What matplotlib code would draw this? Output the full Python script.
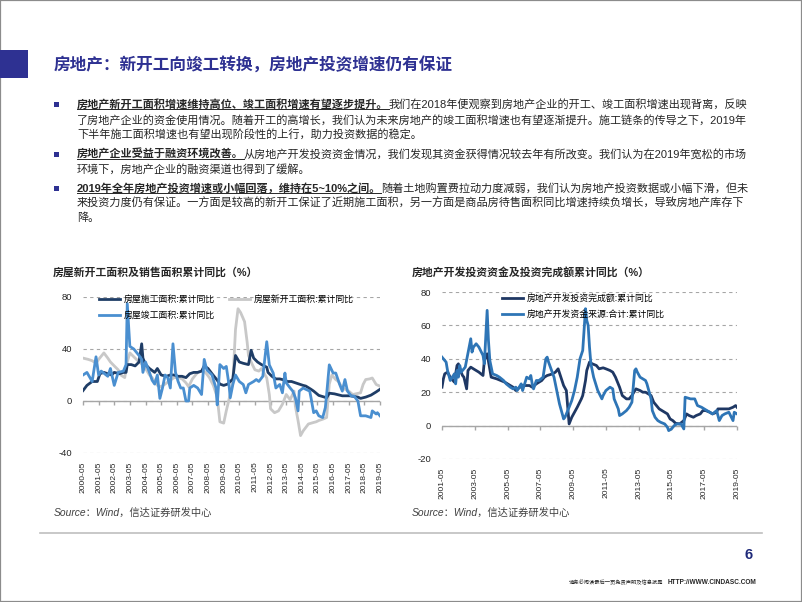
import matplotlib
matplotlib.use("Agg")
import matplotlib.pyplot as plt
from matplotlib.patches import Rectangle
from matplotlib.lines import Line2D
import pandas as pd

plt.rcParams["font.family"] = ["Liberation Sans", "Noto Sans CJK SC"]
plt.rcParams["axes.unicode_minus"] = False

# ---------------- data ----------------
# left chart: 房屋施工面积 / 新开工面积 / 竣工面积 累计同比 (%)
sg_dates = ["2000-05", "2000-08", "2000-12", "2001-04", "2001-06", "2001-09", "2001-12",
            "2002-03", "2002-05", "2002-09", "2002-12", "2003-02", "2003-03", "2003-06",
            "2003-09", "2003-12", "2004-02", "2004-03", "2004-05", "2004-08", "2004-12",
            "2005-02", "2005-05", "2005-09", "2005-12", "2006-03", "2006-06", "2006-09",
            "2006-12", "2007-03", "2007-06", "2007-09", "2007-12", "2008-02", "2008-05",
            "2008-08", "2008-12", "2009-02", "2009-05", "2009-08", "2009-12", "2010-02",
            "2010-05", "2010-08", "2010-12", "2011-02", "2011-04", "2011-07", "2011-10",
            "2012-02", "2012-03", "2012-06", "2012-09", "2012-12", "2013-02", "2013-06",
            "2013-09", "2013-12", "2014-03", "2014-06", "2014-08", "2014-12", "2015-02",
            "2015-06", "2015-12", "2016-02", "2016-06", "2016-12", "2017-06", "2017-12",
            "2018-02", "2018-06", "2018-10", "2019-02", "2019-05"]
sg_vals = [8, 12, 15, 15, 21, 22, 21,
           20, 22, 21, 22, 22, 28, 28,
           27, 30, 44, 33, 28, 25, 22,
           25, 20, 19, 20, 20, 19, 19,
           18, 21, 22, 22, 23, 27, 25,
           21, 16, 13, 12, 13, 17, 35,
           30, 29, 28, 39, 33, 30, 28,
           26, 22, 19, 17, 17, 16.5, 15,
           15, 14, 13, 12, 11.5, 9, 7.6,
           4.3, 2.5, 6, 5.5, 4, 4, 3,
           2, 3, 4.5, 7, 9]

xkg_dates = ["2000-05", "2000-09", "2000-12", "2001-03", "2001-05", "2001-09", "2001-12",
             "2002-02", "2002-05", "2002-08", "2002-10", "2003-01", "2003-03", "2003-05",
             "2003-08", "2003-12", "2004-03", "2004-05", "2004-08", "2004-10", "2005-02",
             "2005-05", "2005-08", "2005-12", "2006-03", "2006-06", "2006-09", "2006-12",
             "2007-02", "2007-05", "2007-09", "2007-12", "2008-03", "2008-06", "2008-09",
             "2008-12", "2009-02", "2009-05", "2009-07", "2009-09", "2009-12", "2010-02",
             "2010-04", "2010-06", "2010-09", "2010-11", "2010-12", "2011-03", "2011-05",
             "2011-08", "2011-10", "2012-02", "2012-04", "2012-05", "2012-08", "2012-11",
             "2013-02", "2013-05", "2013-08", "2013-11", "2013-12", "2014-02", "2014-04",
             "2014-06", "2014-10", "2015-02", "2015-04", "2015-06", "2015-09", "2015-12",
             "2016-02", "2016-04", "2016-07", "2016-09", "2016-12", "2017-05", "2017-08",
             "2018-02", "2018-04", "2018-06", "2018-09", "2018-11", "2019-02", "2019-05"]
xkg_vals = [33, 32, 31, 29, 32, 37, 33,
            30, 27, 24, 20, 18, 30, 37,
            34, 30, 28, 25, 20, 18, 12,
            11, 13, 16, 18, 18, 17, 14,
            11, 17, 22, 23, 22, 18, 12,
            3, -16, -17, -7.5, 1, 15, 55,
            71, 68, 61, 45, 35, 28, 24,
            23, 25, 17.7, 5, -6, -9, -7.6,
            -2.5, 5, 1, 7.6, -4, -15, -26.6,
            -23, -17.7, -16.5, -16, -15, -14, -12.7,
            13, 20, 16.5, 15, 10, 7.6, 5,
            6.3, 12.7, 16.5, 17, 17.7, 12.7, 11.4]

jg_dates = ["2000-05", "2000-08", "2000-12", "2001-03", "2001-05", "2001-07", "2001-12",
            "2002-02", "2002-05", "2002-08", "2002-12", "2003-02", "2003-03", "2003-05",
            "2003-08", "2003-12", "2004-02", "2004-03", "2004-05", "2004-08", "2004-10",
            "2004-12", "2005-02", "2005-04", "2005-06", "2005-08", "2005-10", "2005-12",
            "2006-02", "2006-04", "2006-06", "2006-08", "2006-10", "2006-12", "2007-02",
            "2007-03", "2007-06", "2007-09", "2007-12", "2008-02", "2008-04", "2008-08",
            "2008-11", "2008-12", "2009-02", "2009-05", "2009-07", "2009-09", "2009-10",
            "2009-12", "2010-02", "2010-05", "2010-08", "2010-10", "2010-12", "2011-04",
            "2011-06", "2011-08", "2011-11", "2012-02", "2012-04", "2012-07", "2012-09",
            "2012-12", "2013-02", "2013-04", "2013-05", "2013-08", "2013-10", "2013-12",
            "2014-02", "2014-03", "2014-06", "2014-08", "2014-11", "2014-12", "2015-02",
            "2015-04", "2015-06", "2015-09", "2015-11", "2015-12", "2016-02", "2016-05",
            "2016-07", "2016-10", "2016-12", "2017-02", "2017-04", "2017-07", "2017-09",
            "2017-12", "2018-02", "2018-06", "2018-10", "2018-11", "2019-02", "2019-03",
            "2019-05"]
jg_vals = [20, 22, 15, 34, 20, 23, 19,
           25, 12, 22, 23, 28, 75, 42,
           40, 35, 32, 22, 30, 22, 16,
           13, 20, 2, 10, 20, 18, 10,
           44, 22, 15, 10, 10, 0, 0,
           10, 12, 10, 5, 32, 24, 20,
           10, -3, 28, 25, 26.6, 12.7, 2.5,
           12.7, 20, 15, 12.7, 6.3, 12.7, 15,
           16.5, 15, 19, 45.6, 27.8, 21.5, 10,
           12.7, 6.3, 21.5, 14, 10, 7.6, 2.5,
           -7.6, 7.6, 10, 9, 7.6, 2.5, -9,
           -7.6, -11.4, -12.7, -5, 5, 27.8, 21.5,
           21.5, 12.7, 7.6, 16.5, 7.6, 3.8, 3.8,
           0, -11.4, -11.4, -12.7, -7.6, -10, -9,
           -11.4]

# right chart: 房地产开发投资完成额 / 开发资金来源合计 累计同比 (%)
tz_dates = ["2001-05", "2001-06", "2001-07", "2001-09", "2001-11", "2002-02", "2002-03",
            "2002-04", "2002-05", "2002-07", "2002-08", "2002-09", "2002-11", "2002-12",
            "2003-02", "2003-04", "2003-06", "2003-08", "2003-11", "2003-12", "2004-02",
            "2004-05", "2004-09", "2004-12", "2005-03", "2005-07", "2005-09", "2005-11",
            "2006-02", "2006-04", "2006-09", "2006-11", "2007-02", "2007-06", "2007-08",
            "2007-10", "2008-02", "2008-04", "2008-06", "2008-08", "2008-10", "2008-12",
            "2009-02", "2009-04", "2009-06", "2009-08", "2009-11", "2009-12", "2010-02",
            "2010-03", "2010-05", "2010-07", "2010-10", "2010-12", "2011-03", "2011-05",
            "2011-08", "2011-10", "2011-12", "2012-03", "2012-05", "2012-08", "2012-10",
            "2012-12", "2013-03", "2013-06", "2013-08", "2013-10", "2014-02", "2014-04",
            "2014-06", "2014-08", "2014-10", "2015-02", "2015-04", "2015-06", "2015-08",
            "2015-11", "2016-02", "2016-04", "2016-06", "2016-09", "2016-11", "2017-02",
            "2017-04", "2017-06", "2017-09", "2017-11", "2018-02", "2018-03", "2018-07",
            "2018-11", "2019-02", "2019-04", "2019-05"]
tz_vals = [23, 28, 31, 32, 29, 26, 31,
           36, 37, 32, 30, 29, 22, 33,
           35, 34, 33, 32, 30, 39, 43,
           29, 28, 27, 26, 24, 23, 21,
           23, 24, 24, 23, 25, 27, 29,
           30, 31, 32, 34, 29, 24, 21,
           1, 5, 8, 11, 16, 18, 27,
           33, 38, 37, 36, 34, 34.6, 34,
           33, 32, 29, 23, 18, 16, 16,
           18, 22, 21, 20, 20, 18, 14,
           12, 10, 9, 7, 4, 3, 1.4,
           1, 3, 7, 6, 5, 6, 7,
           9, 9, 8, 7, 8, 10, 10,
           10, 11, 12, 11]

zj_dates = ["2001-05", "2001-07", "2001-08", "2001-09", "2001-11", "2002-02", "2002-03",
            "2002-04", "2002-05", "2002-06", "2002-07", "2002-08", "2002-10", "2003-02",
            "2003-03", "2003-04", "2003-06", "2003-08", "2003-11", "2003-12", "2004-02",
            "2004-03", "2004-04", "2004-06", "2004-09", "2004-11", "2005-02", "2005-04",
            "2005-07", "2005-09", "2005-11", "2005-12", "2006-03", "2006-04", "2006-07",
            "2006-09", "2006-10", "2006-11", "2006-12", "2007-02", "2007-04", "2007-07",
            "2007-09", "2007-10", "2007-11", "2008-03", "2008-05", "2008-07", "2008-09",
            "2008-10", "2008-11", "2009-02", "2009-04", "2009-06", "2009-08", "2009-10",
            "2009-12", "2010-02", "2010-03", "2010-04", "2010-05", "2010-06", "2010-08",
            "2010-11", "2011-02", "2011-03", "2011-05", "2011-08", "2011-10", "2011-11",
            "2012-02", "2012-03", "2012-05", "2012-08", "2012-10", "2012-12", "2013-02",
            "2013-03", "2013-04", "2013-06", "2013-08", "2013-10", "2013-11", "2014-02",
            "2014-03", "2014-05", "2014-07", "2014-09", "2014-12", "2015-02", "2015-03",
            "2015-05", "2015-07", "2015-09", "2015-12", "2016-02", "2016-03", "2016-07",
            "2016-10", "2016-12", "2017-03", "2017-05", "2017-07", "2017-09", "2017-11",
            "2018-02", "2018-04", "2018-06", "2018-08", "2018-11", "2019-02", "2019-03",
            "2019-05"]
zj_vals = [41, 39, 38, 33, 27, 31, 25,
           33, 29, 36, 32, 33, 35, 52,
           44, 47, 49, 47, 42, 37, 69,
           51, 39, 31, 30, 29, 27, 25,
           23, 22, 23, 21, 25, 21, 29,
           28, 30, 25, 22, 27, 27, 29,
           40, 41, 38, 29, 21, 13, 7,
           4, 5, 11, 15, 21, 29, 40,
           45, 70, 63, 60, 47, 37, 29,
           21, 16, 18, 21, 23, 22, 16,
           10, 6, 7, 9, 11, 14, 33,
           34, 32, 29, 28, 27, 25, 16,
           9, 5, 3, 2, 1, -1, -3,
           -2, 0, 1, 1, -2, 17, 16,
           16, 12, 11, 10, 9, 8, 7,
           9, 3, 6, 7, 8, 3, 8,
           7]

left_ticks = [f"{y}-05" for y in range(2000, 2020)]
right_ticks = [f"{y}-05" for y in range(2001, 2020, 2)]

title = "房地产：新开工向竣工转换，房地产投资增速仍有保证"
paragraphs = [
    ("房地产新开工面积增速维持高位、竣工面积增速有望逐步提升。",
     ["我们在2018年便观察到房地产企业的开工、竣工面积增速出现背离，反映",
      "了房地产企业的资金使用情况。随着开工的高增长，我们认为未来房地产的竣工面积增速也有望逐渐提升。施工链条的传导之下，2019年",
      "下半年施工面积增速也有望出现阶段性的上行，助力投资数据的稳定。"]),
    ("房地产企业受益于融资环境改善。",
     ["从房地产开发投资资金情况，我们发现其资金获得情况较去年有所改变。我们认为在2019年宽松的市场",
      "环境下，房地产企业的融资渠道也得到了缓解。"]),
    ("2019年全年房地产投资增速或小幅回落，维持在5~10%之间。",
     ["随着土地购置费拉动力度减弱，我们认为房地产投资数据或小幅下滑，但未",
      "来投资力度仍有保证。一方面是较高的新开工保证了近期施工面积，另一方面是商品房待售面积同比增速持续负增长，导致房地产库存下",
      "降。"]),
]
para_y = [[104, 120, 135], [154, 169], [188, 203, 218]]

# ---------------- layout ----------------
W, H = 802, 602
NAVY = "#2E3192"
TXT = "#262626"
GRID = "#A6A6A6"

fig = plt.figure(figsize=(W / 100, H / 100), dpi=100)
renderer = fig.canvas.get_renderer()


def fx(px):
    return px / W


def fy(py):
    return 1 - py / H


fig.add_artist(Rectangle((0, 0), 1, 1, transform=fig.transFigure, fill=False,
                         edgecolor="#8C8C8C", lw=1.6))
fig.add_artist(Rectangle((0, fy(78)), fx(28), 28 / H, transform=fig.transFigure,
                         color=NAVY, lw=0))
fig.text(fx(54), fy(65), title, fontsize=12, fontweight="bold", color=NAVY, va="center")

for (bold, lines), ys in zip(paragraphs, para_y):
    fig.add_artist(Rectangle((fx(54), fy(ys[0] + 2.5)), fx(5), 5 / H,
                             transform=fig.transFigure, color=NAVY, lw=0))
    t = fig.text(fx(77), fy(ys[0]), bold, fontsize=8, fontweight="bold", color=TXT,
                 va="center")
    bb = t.get_window_extent(renderer)
    fig.add_artist(Line2D([bb.x0 / W, bb.x1 / W], [bb.y0 / H + 0.001] * 2,
                          transform=fig.transFigure, color=TXT, lw=0.7))
    fig.text(bb.x1 / W, fy(ys[0]), lines[0], fontsize=8, color=TXT, va="center")
    for line, y in zip(lines[1:], ys[1:]):
        fig.text(fx(77), fy(y), line, fontsize=8, color=TXT, va="center")

# chart titles and sources
fig.text(fx(53), fy(272), "房屋新开工面积及销售面积累计同比（%）", fontsize=7.8,
         fontweight="bold", color=TXT, va="center")
fig.text(fx(412), fy(272), "房地产开发投资资金及投资完成额累计同比（%）", fontsize=7.8,
         fontweight="bold", color=TXT, va="center")
for x in (54, 412):
    fig.text(fx(x), fy(513), "Source：Wind，信达证券研发中心", fontsize=7.4,
             style="italic", color="#404040", va="center")


def style_axes(ax, ticks, yticks):
    dates = pd.to_datetime(ticks)
    ax.set_xlim(dates[0], dates[-1])
    ax.set_ylim(yticks[0], yticks[-1])
    ax.set_yticks(yticks)
    ax.set_xticks(dates)
    ax.set_xticklabels(ticks, rotation=90)
    for s in ax.spines.values():
        s.set_visible(False)
    ax.grid(axis="y", linestyle=(0, (3, 3)), color=GRID, lw=0.8)
    ax.grid(axis="x", visible=False)
    ax.axhline(0, color=GRID, lw=1.0, zorder=1.5)
    ax.plot(dates, [0] * len(dates), ls="none", marker=3, ms=3, mew=1.0,
            color=GRID, clip_on=False, zorder=1.5)
    ax.tick_params(axis="both", length=0, colors=TXT)
    ax.tick_params(axis="y", pad=8, labelsize=6.8)
    ax.tick_params(axis="x", pad=6, labelsize=6.1)
    ax.set_facecolor("none")


ax1 = fig.add_axes([fx(83), fy(453), fx(380 - 83), (453 - 297) / H])
l_xkg, = ax1.plot(pd.to_datetime(xkg_dates), xkg_vals, color="#C8C8C8", lw=2.0,
                  label="房屋新开工面积:累计同比")
l_sg, = ax1.plot(pd.to_datetime(sg_dates), sg_vals, color="#1F3D66", lw=2.0,
                 label="房屋施工面积:累计同比")
l_jg, = ax1.plot(pd.to_datetime(jg_dates), jg_vals, color="#4A8FD0", lw=2.0,
                 label="房屋竣工面积:累计同比")
style_axes(ax1, left_ticks, [-40, 0, 40, 80])
fig.legend(handles=[l_sg, l_jg, l_xkg], ncol=2, frameon=False, fontsize=6.4,
           loc="upper left", bbox_to_anchor=(fx(99), fy(295)), borderpad=0,
           borderaxespad=0, handlelength=2.4, handletextpad=0.35,
           columnspacing=1.6, labelspacing=0.75)

ax2 = fig.add_axes([fx(442), fy(459), fx(737 - 442), (459 - 292) / H])
l_tz, = ax2.plot(pd.to_datetime(tz_dates), tz_vals, color="#1F3864", lw=2.0,
                 label="房地产开发投资完成额:累计同比")
l_zj, = ax2.plot(pd.to_datetime(zj_dates), zj_vals, color="#2E75B6", lw=2.0,
                 label="房地产开发资金来源:合计:累计同比")
style_axes(ax2, right_ticks, [-20, 0, 20, 40, 60, 80])
fig.legend(handles=[l_tz, l_zj], frameon=False, fontsize=6.4,
           loc="upper left", bbox_to_anchor=(fx(502), fy(294)), borderpad=0,
           borderaxespad=0, handlelength=2.4, handletextpad=0.35, labelspacing=0.75)

# footer
fig.add_artist(Line2D([fx(40), fx(762)], [fy(533)] * 2, transform=fig.transFigure,
                      color="#BFBFBF", lw=1.2))
fig.text(fx(749), fy(555), "6", fontsize=10.5, fontweight="bold", color="#1F2A7A",
         ha="center", va="center")
fig.text(fx(663), fy(582), "请务必阅读最后一页免责声明及信息披露", fontsize=3.8,
         color=TXT, ha="right", va="center")
fig.text(fx(668), fy(582), "HTTP://WWW.CINDASC.COM", fontsize=4.7, fontweight="bold",
         color=TXT, ha="left", va="center")

fig.savefig("out.png", dpi=100)
